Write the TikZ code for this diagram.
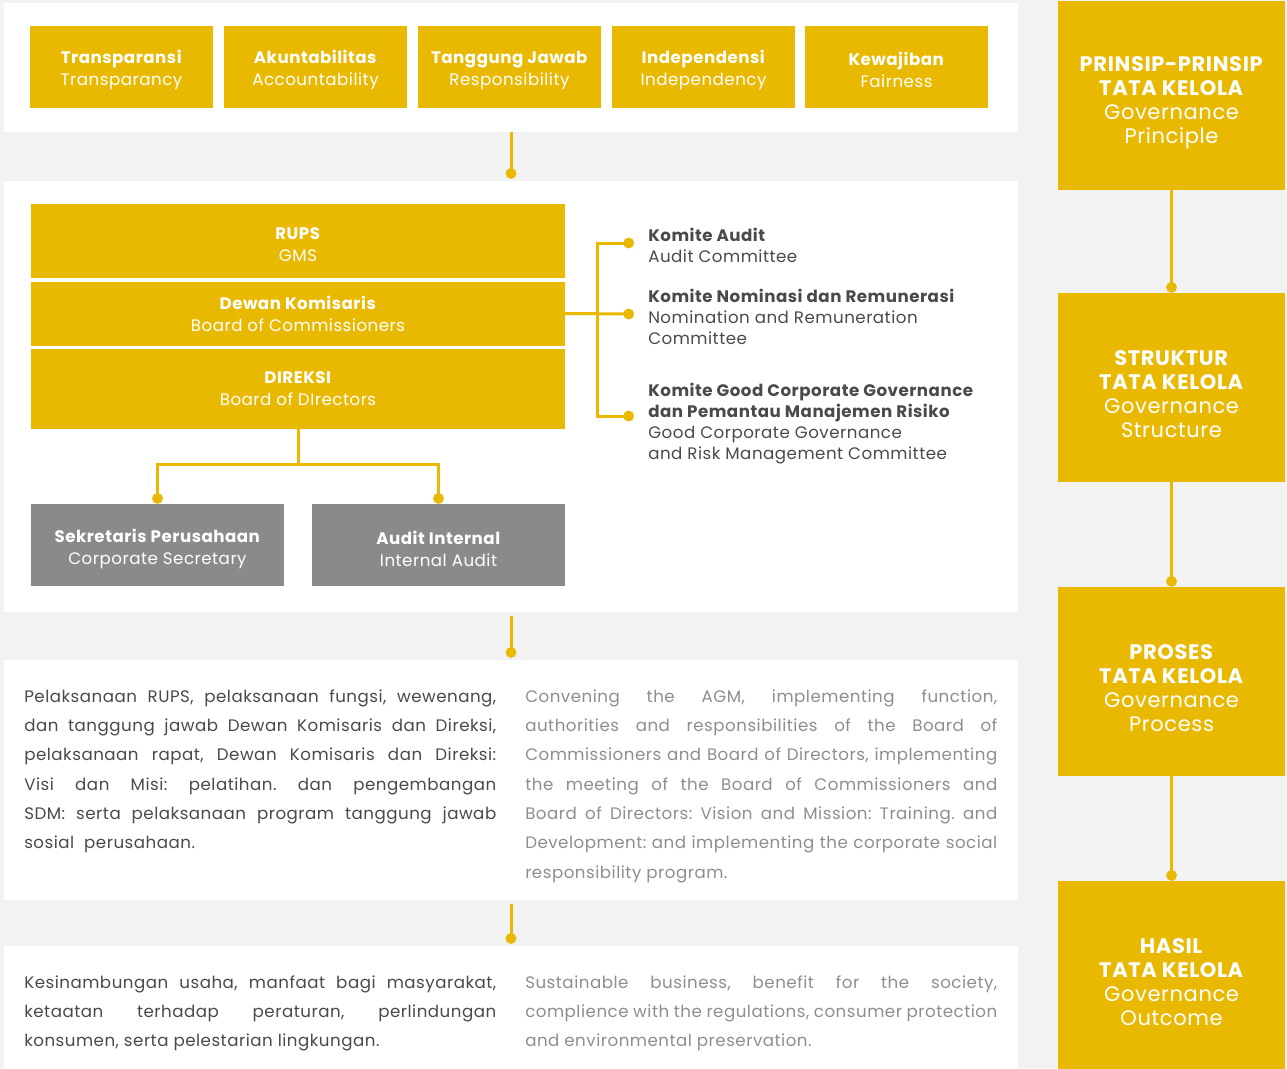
\documentclass[tikz,border=0pt]{standalone}
\usepackage{fontspec}
\setmainfont{Poppins}[LetterSpace=3]
\usetikzlibrary{calc,positioning,arrows.meta}
\definecolor{gold}{HTML}{E8B900}
\definecolor{pagegray}{HTML}{F1F2F1}
\definecolor{boxgray}{HTML}{8A8A8A}
\definecolor{darktext}{HTML}{4A4A4A}
\definecolor{lighttext}{HTML}{8E8E8E}
% bold line over a regular line; the optional rule lowers the block a little
\newcommand{\twolines}[3][0pt]{\rule{0pt}{#1}\textbf{#2}\\#3}

\begin{document}
\begin{tikzpicture}[x=0.75pt,y=-0.75pt,
  boxsize/.style 2 args={minimum width=#1*0.75pt,minimum height=#2*0.75pt},
  panel/.style={fill=white,inner sep=0pt},
  pillar/.style={fill=gold,text=white,inner sep=0pt,align=center,
    font=\fontsize{12.5}{16.5}\selectfont},
  organ/.style={pillar,boxsize={534}{#1}},
  staff/.style={pillar,fill=boxgray,boxsize={253}{82}},
  side/.style={fill=gold,inner sep=0pt,boxsize={227}{189}},
  sidetext/.style={text=white,inner sep=0pt,align=center,
    font=\fontsize{15.75}{18}\selectfont},
  comm/.style={inner sep=0pt,align=left,text=darktext,
    font=\fontsize{12.5}{15.75}\selectfont},
  para/.style={inner sep=0pt,anchor=north west,text width=354pt,align=justify,
    font=\fontsize{12.5}{22}\selectfont\frenchspacing},
  link/.style={gold,line width=2.25pt,-{Circle[length=8pt]}}]

  \useasboundingbox (0,0) rectangle (1287,1068);
  \fill[pagegray] (0,0) rectangle (1287,1068);

  % white panels
  \node[panel,boxsize={1014}{129}] (pnlPrinciple) at (511,67.5) {};
  \node[panel,boxsize={1014}{431}] (pnlStructure) at (511,396.5) {};
  \node[panel,boxsize={1014}{240}] (pnlProcess) at (511,780) {};
  \node[panel,boxsize={1014}{122}] (pnlOutcome) at (511,1007) {};

  % principles
  \foreach \n/\x/\id/\en in {p1/121.5/Transparansi/Transparancy,
      p2/315.5/Akuntabilitas/Accountability,p3/509.5/Tanggung Jawab/Responsibility,
      p4/703.5/Independensi/Independency,p5/896.5/Kewajiban/Fairness} {
    \node[pillar,boxsize={183}{82}] (\n) at (\x,67) {\twolines[15pt]{\id}{\en}};
  }

  % structure
  \node[organ=74] (rups) at (298,241) {\twolines[15pt]{RUPS}{GMS}};
  \node[organ=64,below=3*0.75pt of rups] (dewan) {\twolines{Dewan Komisaris}{Board of Commissioners}};
  \node[organ=80,below=3*0.75pt of dewan] (direksi) {\twolines{DIREKSI}{Board of DIrectors}};
  \node[staff] (sekper) at (157.5,545) {\twolines[16pt]{Sekretaris Perusahaan}{Corporate Secretary}};
  \node[staff] (audint) at (438.5,545) {\twolines[16pt]{Audit Internal}{Internal Audit}};

  \draw[link] (direksi.south) -- ++(0,35) -| (sekper.north);
  \draw[link] (direksi.south) -- ++(0,35) -| (audint.north);

  \coordinate (c1) at (634,243);
  \coordinate (c2) at (634,314);
  \coordinate (c3) at (634,416);
  \node[comm,anchor=north west] (km1) at (648,228) {\twolines{Komite Audit}{Audit Committee}};
  \node[comm,anchor=north west] (km2) at (648,289) {\twolines{Komite Nominasi dan Remunerasi}{Nomination and Remuneration\\Committee}};
  \node[comm,anchor=north west] (km3) at (648,383) {\textbf{Komite Good Corporate Governance}\\\textbf{dan Pemantau Manajemen Risiko}\\Good Corporate Governance\\and Risk Management Committee};
  \draw[link] (dewan.east) -- ++(32,0) |- (c1);
  \draw[link] (dewan.east) -- (c2);
  \draw[link] (dewan.east) -- ++(32,0) |- (c3);

  % process
  \node[para,text=darktext] (procId) at (24,689) {Pelaksanaan RUPS, pelaksanaan fungsi, wewenang,\linebreak
    dan tanggung jawab Dewan Komisaris dan Direksi,\linebreak
    pelaksanaan rapat, Dewan Komisaris dan Direksi:\linebreak
    Visi dan Misi: pelatihan. dan pengembangan\linebreak
    SDM: serta pelaksanaan program tanggung jawab\linebreak
    sosial\ \ perusahaan.};
  \node[para,text=lighttext] (procEn) at (525,689) {Convening the AGM, implementing function,\linebreak
    authorities and responsibilities of the Board of\linebreak
    Commissioners and Board of Directors, implementing\linebreak
    the meeting of the Board of Commissioners and\linebreak
    Board of Directors: Vision and Mission: Training. and\linebreak
    Development: and implementing the corporate social\linebreak
    responsibility program.};

  % outcome
  \node[para,text=darktext] (outId) at (24,975) {Kesinambungan usaha, manfaat bagi masyarakat,\linebreak
    ketaatan terhadap peraturan, perlindungan\linebreak
    konsumen, serta pelestarian lingkungan.};
  \node[para,text=lighttext] (outEn) at (525,975) {Sustainable business, benefit for the society,\linebreak
    complience with the regulations, consumer protection\linebreak
    and environmental preservation.};

  \draw[link] (pnlPrinciple.south) -- ([yshift=1.5pt]pnlStructure.north);
  \draw[link,shorten <=3pt] (pnlStructure.south) -- ([yshift=1.5pt]pnlProcess.north);
  \draw[link,shorten <=3pt] (pnlProcess.south) -- ([yshift=1.5pt]pnlOutcome.north);

  % side column
  \foreach \n/\y/\a/\c in {s1/95.5/PRINSIP-PRINSIP/Principle,
      s2/387.5/STRUKTUR/Structure,s3/681.5/PROSES/Process,s4/975.5/HASIL/Outcome} {
    \node[side] (\n) at (1171.5,\y) {};
    \node[sidetext] (\n txt) at ($(\n)+(0,7)$) {\textbf{\a}\\\textbf{TATA KELOLA}\\Governance\\\c};
  }
  \foreach \a/\b in {s1/s2,s2/s3,s3/s4}
    \draw[link] (\a) -- (\b);
\end{tikzpicture}
\end{document}
